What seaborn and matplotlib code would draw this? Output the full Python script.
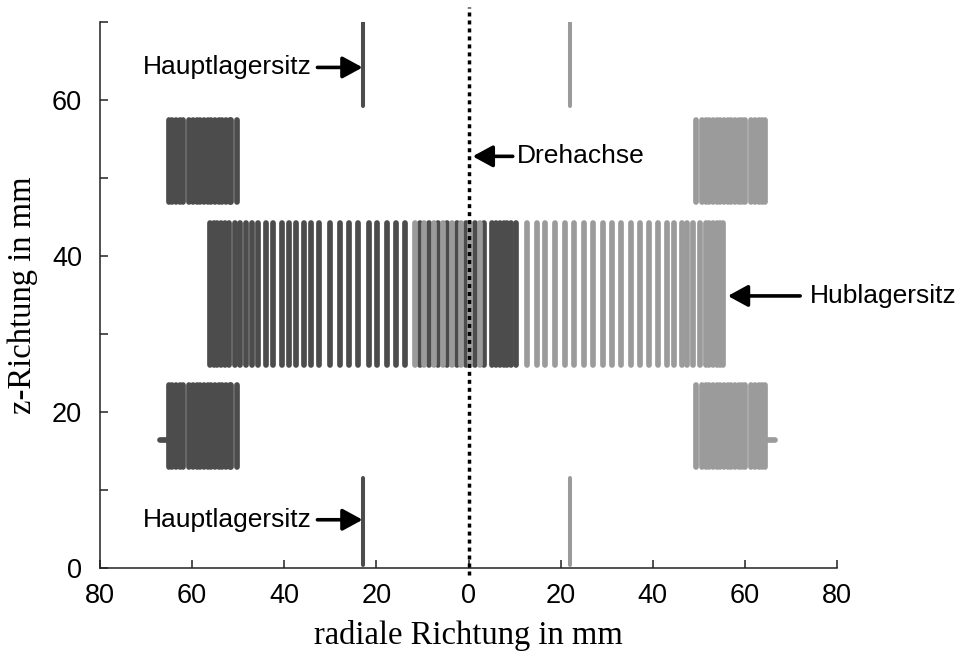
import numpy as np
import pandas as pd
import matplotlib
matplotlib.use("Agg")
import matplotlib.pyplot as plt
from matplotlib.ticker import FuncFormatter
import seaborn as sns

# ---- scan lines (x = radial position in mm, z-range in mm) ----
DARK = "#4c4c4c"
LIGHT = "#9b9b9b"

# crank-pin seat (Hublagersitz) scan lines
dark_pin_x = [-56.1, -55.3, -54.5, -53.7, -52.9, -51.9,
              -50.7, -49.6, -48.3, -47.0, -45.7, -43.9, -42.4, -40.4, -38.9,
              -37.4, -35.7, -34.1, -32.4, -30.0, -28.0, -25.9, -23.9, -21.7,
              -19.8, -17.8, -15.7, -13.7, -10.6, -8.6, -6.6, -4.6, -2.6, -0.6,
              1.4, 3.4,
              5.2, 6.0, 6.8, 7.6, 8.4, 9.2, 10.3]
light_pin_x = [-11.6, -9.6, -7.6, -5.6, -3.6, -1.6, 0.4, 2.4,
               12.8, 14.8, 16.7, 18.7, 20.9, 22.8, 25.0, 27.0, 29.1, 31.1,
               33.0, 35.2, 37.2, 39.1, 41.1, 43.0, 44.6, 46.3, 47.4, 48.7,
               50.2,
               51.5, 52.3, 53.1, 53.9, 54.7, 55.3]
pin_z = (26.0, 44.2)

# crank webs (upper and lower blocks)
dark_web_x = [-65.1, -64.3, -63.5, -62.7, -62.0, -60.65, -59.85, -59.05,
              -58.25, -57.45, -56.65, -55.85, -55.05, -54.25, -53.45, -52.65,
              -51.85, -51.55, -50.2]
light_web_x = [49.3, 50.65, 51.45, 52.25, 53.05, 53.85, 54.65, 55.45, 56.25,
               57.05, 57.85, 58.65, 59.45, 60.05, 61.4, 62.2, 63.0, 63.8, 64.4]
upper_web_z = (47.0, 57.5)
lower_web_z = (13.0, 23.5)

# small lip on the lower webs
dark_lip = ((-67.0, -65.5), 16.4)
light_lip = ((65.0, 66.6), 16.4)

# main bearing seats (Hauptlagersitz)
dark_main_x = -22.8
light_main_x = 22.0
main_upper_z = (59.2, 70.0)
main_lower_z = (0.4, 11.6)


def build_segments(pin_x, web_x, lip, main_x):
    rows = []
    seg = 0

    def add(x0, z0, x1, z1, kind):
        nonlocal seg
        rows.append({"seg": seg, "x": x0, "z": z0, "kind": kind})
        rows.append({"seg": seg, "x": x1, "z": z1, "kind": kind})
        seg += 1

    for x in pin_x:
        add(x, pin_z[0], x, pin_z[1], "scan")
    for zr in (upper_web_z, lower_web_z):
        for x in web_x:
            add(x, zr[0], x, zr[1], "scan")
    (lx0, lx1), lz = lip
    add(lx0, lz, lx1, lz, "scan")
    for zr in (main_upper_z, main_lower_z):
        add(main_x, zr[0], main_x, zr[1], "main")
    return pd.DataFrame(rows)


df_dark = build_segments(dark_pin_x, dark_web_x, dark_lip, dark_main_x)
df_light = build_segments(light_pin_x, light_web_x, light_lip, light_main_x)

sns.set_theme(style="ticks")
plt.rcParams["font.family"] = ["Liberation Sans", "DejaVu Sans"]

fig = plt.figure(figsize=(9.59, 6.53), dpi=100)
ax = fig.add_axes([0.1043, 0.130, 0.7685, 0.836])

for df, col in ((df_dark, DARK), (df_light, LIGHT)):
    for kind, lw in (("scan", 4.1), ("main", 2.9)):
        sub = df[df["kind"] == kind]
        sns.lineplot(data=sub, x="x", y="z", units="seg", estimator=None,
                     sort=False, color=col, lw=lw, solid_capstyle="round",
                     legend=False, ax=ax)

# axis of rotation
ax.plot([0, 0], [-0.9, 72.0], color="black", lw=2.5,
        linestyle=(0, (1.15, 1.15)), clip_on=False, zorder=5)

ax.set_xlim(-80, 80)
ax.set_ylim(0, 70)
ax.set_xticks(np.arange(-80, 81, 20))
ax.xaxis.set_major_formatter(FuncFormatter(lambda v, p: f"{abs(v):.0f}"))
ax.set_yticks(np.arange(0, 71, 10))
ax.set_yticklabels(["0", "", "20", "", "40", "", "60", ""])

sns.despine(ax=ax)
for s in ("left", "bottom"):
    ax.spines[s].set_linewidth(1.1)
    ax.spines[s].set_color("#222222")
ax.tick_params(direction="in", length=6, width=1.1, color="#222222",
               labelsize=19.5, labelcolor="black")
ax.tick_params(axis="x", pad=11)
ax.tick_params(axis="y", pad=13)

serif = ["Liberation Serif", "DejaVu Serif"]
ax.set_xlabel("radiale Richtung in mm", fontsize=23.5, family=serif,
              labelpad=8, color="black")
ax.set_ylabel("z-Richtung in mm", fontsize=23.5, family=serif,
              labelpad=10, color="black")

arrow = dict(arrowstyle="-|>,head_length=0.55,head_width=0.3",
             color="black", lw=2.6, shrinkA=0, shrinkB=0,
             mutation_scale=22)
txt = dict(fontsize=19.0, va="center", color="black")

ax.text(-34.1, 64.2, "Hauptlagersitz", ha="right", **txt)
ax.annotate("", xy=(-23.0, 64.2), xytext=(-32.8, 64.2), arrowprops=arrow)
ax.text(-34.1, 6.2, "Hauptlagersitz", ha="right", **txt)
ax.annotate("", xy=(-23.0, 6.2), xytext=(-32.8, 6.2), arrowprops=arrow)
ax.text(10.6, 52.8, "Drehachse", ha="left", **txt)
ax.annotate("", xy=(0.9, 52.8), xytext=(9.6, 52.8), arrowprops=arrow)
ax.text(74.0, 34.9, "Hublagersitz", ha="left", clip_on=False, **txt)
ax.annotate("", xy=(56.3, 34.9), xytext=(72.0, 34.9), arrowprops=arrow,
            annotation_clip=False)

fig.savefig("out.png", dpi=100, facecolor="white")
